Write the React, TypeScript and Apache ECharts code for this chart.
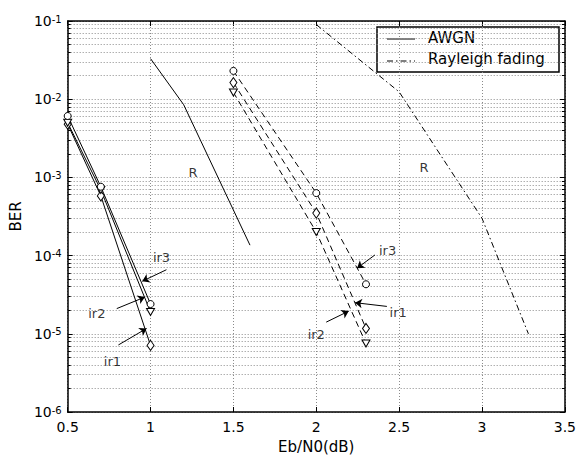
import React, { useEffect, useRef } from "react";
import * as echarts from "echarts";

// ---- data ----
const ebAwgnRef = [1.0, 1.2, 1.6];
const berAwgnRef = [3.3e-2, 8.5e-3, 1.36e-4];

const ebRayRef = [2.0, 2.5, 3.0, 3.28];
const berRayRef = [9.0e-2, 1.24e-2, 3.0e-4, 1.0e-5];

const ebAwgnIr = [0.5, 0.7, 1.0];
const berAwgnIr1 = [4.8e-3, 5.8e-4, 7.1e-6];
const berAwgnIr2 = [5.0e-3, 6.9e-4, 1.9e-5];
const berAwgnIr3 = [6.1e-3, 7.6e-4, 2.4e-5];

const ebRayIr = [1.5, 2.0, 2.3];
const berRayIr1 = [1.63e-2, 3.5e-4, 1.17e-5];
const berRayIr2 = [1.22e-2, 2.0e-4, 7.5e-6];
const berRayIr3 = [2.3e-2, 6.3e-4, 4.3e-5];

const xTicks = [0.5, 3.5, 0.5]; // min, max, interval
const yRange = [1e-6, 1e-1];
const yDecades = [-6, -5, -4, -3, -2];
const minorMultipliers = [2, 3, 4, 5, 6, 7, 8, 9];

const annoText = ["ir3", "ir2", "ir1", "ir3", "ir1", "ir2", "R", "R"];
const annoX = [1.066, 0.676, 0.77, 2.43, 2.494, 2.0, 1.256, 2.65];
const annoY = [9.5e-5, 1.82e-5, 4.4e-6, 1.15e-4, 1.86e-5, 9.8e-6, 1.17e-3, 1.32e-3];

const arrowTailX = [1.096, 0.796, 0.806, 2.354, 2.426, 2.06];
const arrowTailY = [6.6e-5, 2.1e-5, 7.2e-6, 1.02e-4, 2.24e-5, 1.41e-5];
const arrowTipX = [0.95, 0.966, 0.976, 2.246, 2.234, 2.196];
const arrowTipY = [4.7e-5, 2.95e-5, 1.17e-5, 6.9e-5, 2.5e-5, 1.95e-5];

const FONT = "DejaVu Sans";
const GRID_COLOR = "#8a8a8a";
const MINOR_TICK_LEN = 0.018; // in x units (about 3 px)

const pairs = (xs: number[], ys: number[]) => xs.map((x, i) => [x, ys[i]]);

export default function App() {
  const ref = useRef<HTMLDivElement>(null);
  useEffect(() => {
    if (!ref.current) return;
    const chart = echarts.init(ref.current, undefined, { renderer: "svg" });

    const minorLines: any[] = [];
    const minorTicks: any[] = [];
    yDecades.forEach((d) => {
      minorMultipliers.forEach((m) => {
        const v = m * Math.pow(10, d);
        minorLines.push({ coords: [[xTicks[0], v], [xTicks[1], v]] });
        minorTicks.push({ coords: [[xTicks[0], v], [xTicks[0] + MINOR_TICK_LEN, v]] });
        minorTicks.push({ coords: [[xTicks[1] - MINOR_TICK_LEN, v], [xTicks[1], v]] });
      });
    });

    const markerSeries = (
      name: string,
      xs: number[],
      ys: number[],
      symbol: string,
      size: any,
      rotate: number,
      dash: any
    ) => ({
      name,
      type: "line",
      data: pairs(xs, ys),
      symbol,
      symbolSize: size,
      symbolRotate: rotate,
      showSymbol: true,
      itemStyle: { color: "#fff", borderColor: "#000", borderWidth: 1 },
      lineStyle: { color: "#000", width: 1, type: dash },
      z: 3,
    });

    const axisLine = { show: true, onZero: false, lineStyle: { color: "#000", width: 1.5 } };
    const axisTick = { show: true, inside: true, length: 5, lineStyle: { color: "#000", width: 1 } };

    const option: any = {
      animation: false,
      textStyle: { fontFamily: FONT },
      grid: { left: 64, right: 14, top: 21, bottom: 44 },
      xAxis: [
        {
          type: "value",
          min: xTicks[0],
          max: xTicks[1],
          interval: xTicks[2],
          position: "bottom",
          name: "Eb/N0(dB)",
          nameLocation: "middle",
          nameGap: 27,
          nameTextStyle: { fontSize: 15, color: "#000", fontFamily: FONT },
          axisLine,
          axisTick,
          axisLabel: { fontSize: 14, color: "#000", margin: 8, fontFamily: FONT },
          splitLine: { show: true, lineStyle: { color: GRID_COLOR, type: [1, 2], width: 1 } },
        },
        {
          type: "value",
          min: xTicks[0],
          max: xTicks[1],
          interval: xTicks[2],
          position: "top",
          axisLine,
          axisTick,
          axisLabel: { show: false },
          splitLine: { show: false },
        },
      ],
      yAxis: [
        {
          type: "log",
          logBase: 10,
          min: yRange[0],
          max: yRange[1],
          position: "left",
          name: "BER",
          nameLocation: "middle",
          nameGap: 40,
          nameRotate: 90,
          nameTextStyle: { fontSize: 15, color: "#000", fontFamily: FONT },
          axisLine,
          axisTick,
          axisLabel: {
            margin: 6,
            formatter: (v: number) => {
              const e = Math.round(Math.log10(v));
              return "{b|10}{s|" + e + "}";
            },
            rich: {
              b: { fontSize: 14, color: "#000", fontFamily: FONT, lineHeight: 14, verticalAlign: "bottom" },
              s: {
                fontSize: 10,
                color: "#000",
                fontFamily: FONT,
                lineHeight: 10,
                verticalAlign: "top",
                padding: [0, 0, 8, 0],
              },
            },
          },
          splitLine: { show: true, lineStyle: { color: GRID_COLOR, type: [1, 2], width: 1 } },
        },
        {
          type: "log",
          logBase: 10,
          min: yRange[0],
          max: yRange[1],
          position: "right",
          axisLine,
          axisTick,
          axisLabel: { show: false },
          splitLine: { show: false },
        },
      ],
      series: [
        {
          name: "grid-minor",
          type: "lines",
          coordinateSystem: "cartesian2d",
          data: minorLines,
          silent: true,
          symbol: ["none", "none"],
          lineStyle: { color: GRID_COLOR, type: [1, 2], width: 1, opacity: 1 },
          z: 1,
        },
        {
          name: "minor-ticks",
          type: "lines",
          coordinateSystem: "cartesian2d",
          data: minorTicks,
          silent: true,
          symbol: ["none", "none"],
          lineStyle: { color: "#000", type: "solid", width: 1, opacity: 1 },
          z: 2,
        },
        {
          name: "AWGN",
          type: "line",
          data: pairs(ebAwgnRef, berAwgnRef),
          symbol: "none",
          lineStyle: { color: "#000", width: 1, type: "solid" },
          z: 3,
        },
        {
          name: "Rayleigh fading",
          type: "line",
          data: pairs(ebRayRef, berRayRef),
          symbol: "none",
          lineStyle: { color: "#000", width: 1, type: [6, 3, 1.5, 3] },
          z: 3,
        },
        markerSeries("AWGN ir1", ebAwgnIr, berAwgnIr1, "diamond", [7, 10], 0, "solid"),
        markerSeries("AWGN ir2", ebAwgnIr, berAwgnIr2, "triangle", [8, 7], 180, "solid"),
        markerSeries("AWGN ir3", ebAwgnIr, berAwgnIr3, "circle", 7, 0, "solid"),
        markerSeries("Rayleigh ir1", ebRayIr, berRayIr1, "diamond", [7, 10], 0, [6, 4]),
        markerSeries("Rayleigh ir2", ebRayIr, berRayIr2, "triangle", [8, 7], 180, [6, 4]),
        markerSeries("Rayleigh ir3", ebRayIr, berRayIr3, "circle", 7, 0, [6, 4]),
        {
          name: "annotations",
          type: "scatter",
          data: annoText.map((t, i) => ({ name: t, value: [annoX[i], annoY[i]] })),
          symbolSize: 1,
          itemStyle: { color: "transparent" },
          label: {
            show: true,
            position: "inside",
            formatter: "{b}",
            fontSize: 13,
            color: "#000",
            fontFamily: FONT,
          },
          silent: true,
          z: 5,
        },
        {
          name: "arrows",
          type: "lines",
          coordinateSystem: "cartesian2d",
          data: arrowTailX.map((x, i) => ({
            coords: [
              [x, arrowTailY[i]],
              [arrowTipX[i], arrowTipY[i]],
            ],
          })),
          symbol: ["none", "arrow"],
          symbolSize: 7,
          lineStyle: { color: "#000", width: 1, opacity: 1 },
          silent: true,
          z: 5,
        },
      ],
      graphic: [
        {
          type: "group",
          z: 100,
          children: [
            {
              type: "rect",
              shape: { x: 377, y: 27, width: 182, height: 45 },
              style: { fill: "#fff", stroke: "#000", lineWidth: 1.5 },
            },
            {
              type: "line",
              shape: { x1: 387, y1: 39, x2: 415, y2: 39 },
              style: { stroke: "#000", lineWidth: 1 },
            },
            {
              type: "text",
              x: 428,
              y: 38,
              style: { text: "AWGN", fontSize: 15, fontFamily: FONT, fill: "#000", verticalAlign: "middle" },
            },
            {
              type: "line",
              shape: { x1: 387, y1: 61, x2: 415, y2: 61 },
              style: { stroke: "#000", lineWidth: 1, lineDash: [6, 3, 1.5, 3] },
            },
            {
              type: "text",
              x: 428,
              y: 59,
              style: {
                text: "Rayleigh fading",
                fontSize: 15,
                fontFamily: FONT,
                fill: "#000",
                verticalAlign: "middle",
              },
            },
          ],
        },
      ],
    };

    chart.setOption(option);
    return () => chart.dispose();
  }, []);

  return (
    <div
      ref={ref}
      style={{ position: "fixed", left: 0, top: 0, width: 579, height: 459, background: "#fff" }}
    />
  );
}
